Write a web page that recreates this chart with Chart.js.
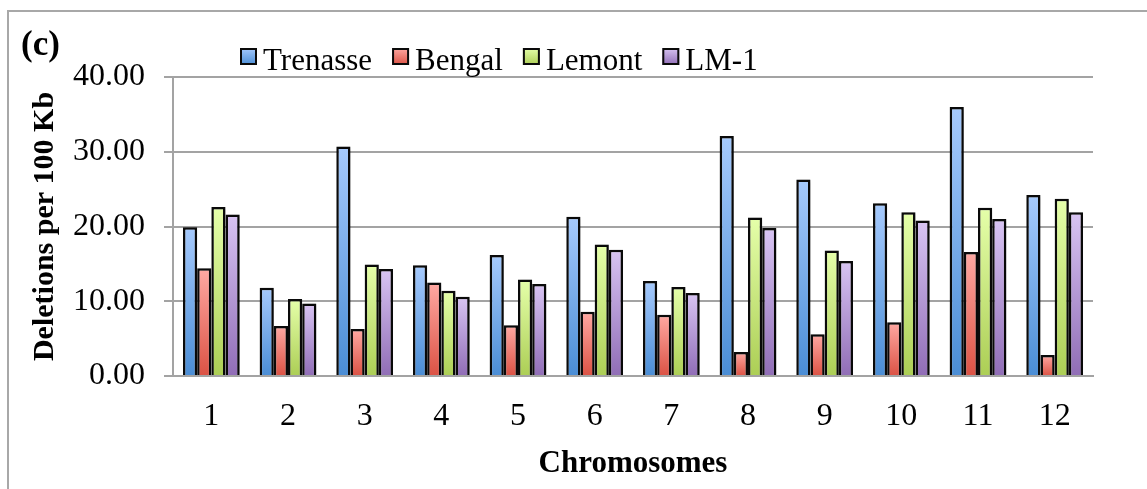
<!DOCTYPE html>
<html>
<head>
<meta charset="utf-8">
<script src="https://cdn.jsdelivr.net/npm/chart.js@4.4.0/dist/chart.umd.min.js"></script>
<style>
  html, body { margin: 0; padding: 0; background: #ffffff; }
  #wrap { width: 1147px; height: 489px; position: relative; }
</style>
</head>
<body>
<div id="wrap"><canvas id="chart" width="1147" height="489"></canvas></div>
<script>
// Deletions per 100 Kb for each rice chromosome, by cultivar
const chromosomes = ['1', '2', '3', '4', '5', '6', '7', '8', '9', '10', '11', '12'];
const trenasse = [19.9, 11.8, 30.7, 14.8, 16.2, 21.3, 12.7, 32.1, 26.3, 23.1, 36.0, 24.2];
const bengal   = [14.4, 6.7, 6.3, 12.5, 6.8, 8.6, 8.2, 3.2, 5.6, 7.2, 16.6, 2.8];
const lemont   = [22.6, 10.3, 14.9, 11.4, 12.9, 17.6, 11.9, 21.2, 16.8, 21.9, 22.5, 23.7];
const lm1      = [21.6, 9.7, 14.3, 10.6, 12.3, 16.9, 11.1, 19.8, 15.4, 20.8, 21.0, 21.9];
const seriesNames = ['Trenasse', 'Bengal', 'Lemont', 'LM-1'];
const yTicks = [0, 10, 20, 30, 40];

// light (top) and dark (bottom) ends of each series gradient
const shades = [
  ['#a6cafd', '#4a8dd5'],
  ['#ffa9a3', '#db5244'],
  ['#e5ffaa', '#acce55'],
  ['#d8c4f3', '#906db6']
];

const SERIF = "'Liberation Serif', 'Times New Roman', serif";
const GRID = '#a3a3a3';

function barFill(ctx) {
  const chart = ctx.chart;
  const pair = shades[ctx.datasetIndex];
  const y = chart.scales && chart.scales.y;
  if (!y || ctx.raw === undefined || !chart.chartArea) return pair[1];
  const top = y.getPixelForValue(ctx.raw);
  const bottom = y.getPixelForValue(0);
  if (!isFinite(top) || !isFinite(bottom) || top === bottom) return pair[1];
  const g = chart.ctx.createLinearGradient(0, top, 0, bottom);
  g.addColorStop(0, pair[0]);
  g.addColorStop(1, pair[1]);
  return g;
}

const seriesValues = [trenasse, bengal, lemont, lm1];
const datasets = seriesNames.map((name, i) => ({
  label: name,
  data: seriesValues[i],
  backgroundColor: barFill,
  borderColor: '#0a0a0a',
  borderWidth: 2.5,
  borderSkipped: 'bottom',
  barPercentage: 1.0,
  categoryPercentage: 0.74
}));

// frame, bar shadow, panel letter and legend row
const decorations = {
  id: 'decorations',
  beforeDraw(chart) {
    const c = chart.ctx;
    c.save();
    c.strokeStyle = '#a8a8a8';
    c.lineWidth = 2;
    c.beginPath();
    c.moveTo(8, 489);
    c.lineTo(8, 11);
    c.lineTo(1147, 11);
    c.stroke();
    c.restore();
  },
  beforeDatasetsDraw(chart) {
    const c = chart.ctx;
    c.save();
    c.shadowColor = 'rgba(0,0,0,0.28)';
    c.shadowBlur = 4;
    c.shadowOffsetX = 2;
    c.shadowOffsetY = 1;
  },
  afterDatasetsDraw(chart) {
    chart.ctx.restore();
  },
  afterDraw(chart) {
    const c = chart.ctx;
    c.save();
    // panel letter
    c.fillStyle = '#000';
    c.font = "bold 35px " + SERIF;
    c.textBaseline = 'alphabetic';
    c.textAlign = 'left';
    c.fillText('(c)', 21, 55);

    // legend row
    c.font = "31px " + SERIF;
    let x = 240;
    const boxTop = 48, box = 17, baseline = 70;
    chart.data.datasets.forEach((ds, i) => {
      const g = c.createLinearGradient(0, boxTop, 0, boxTop + box);
      g.addColorStop(0, shades[i][0]);
      g.addColorStop(1, shades[i][1]);
      c.fillStyle = g;
      c.fillRect(x, boxTop, box, box);
      c.strokeStyle = '#0a0a0a';
      c.lineWidth = 2;
      c.strokeRect(x + 1, boxTop + 1, box - 2, box - 2);
      c.fillStyle = '#000';
      c.fillText(ds.label, x + box + 6, baseline);
      x += box + 6 + c.measureText(ds.label).width + 20;
    });
    c.restore();
  }
};

new Chart(document.getElementById('chart'), {
  type: 'bar',
  data: { labels: chromosomes, datasets },
  options: {
    responsive: false,
    animation: false,
    events: [],
    layout: { padding: { top: 77, right: 54, left: 0, bottom: 0 } },
    plugins: {
      legend: { display: false },
      title: { display: false },
      tooltip: { enabled: false }
    },
    scales: {
      x: {
        grid: { display: false, drawTicks: false },
        border: { display: true, color: GRID, width: 2 },
        ticks: {
          color: '#000',
          font: { family: SERIF, size: 32 },
          padding: 21,
          maxRotation: 0
        },
        title: {
          display: true,
          text: 'Chromosomes',
          color: '#000',
          font: { family: SERIF, size: 31, weight: 'bold' },
          padding: { top: 0, bottom: 6 }
        },
        afterFit(scale) { scale.height = 113; }
      },
      y: {
        min: 0,
        max: 40,
        afterBuildTicks(scale) { scale.ticks = yTicks.map(v => ({ value: v })); },
        grid: { color: GRID, lineWidth: 2, drawTicks: true, tickLength: 9, tickColor: GRID },
        border: { display: true, color: GRID, width: 2 },
        ticks: {
          color: '#000',
          font: { family: SERIF, size: 32 },
          padding: 19,
          callback: v => Number(v).toFixed(2)
        },
        title: {
          display: true,
          text: 'Deletions per 100 Kb',
          color: '#000',
          font: { family: SERIF, size: 30, weight: 'bold' },
          padding: { top: 27, bottom: 0 }
        },
        afterFit(scale) { scale.width = 173; }
      }
    }
  },
  plugins: [decorations]
});
</script>
</body>
</html>
